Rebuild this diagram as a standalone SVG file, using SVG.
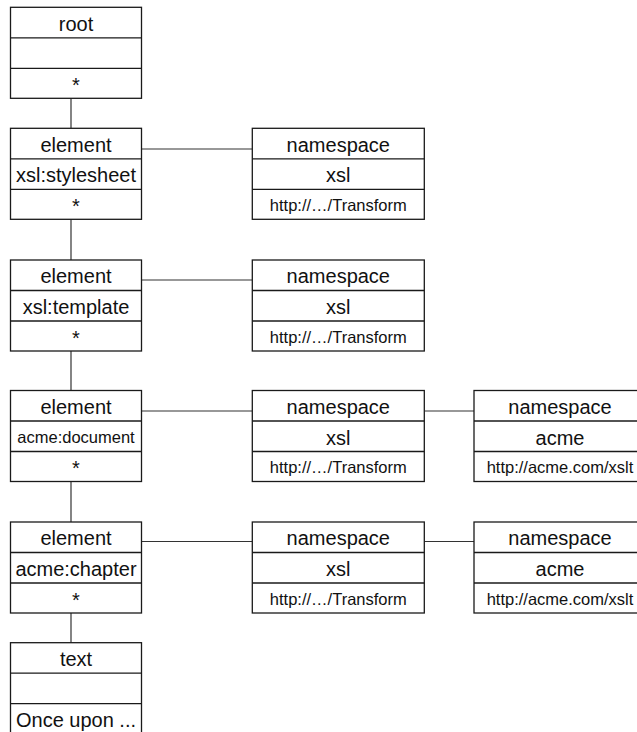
<svg xmlns="http://www.w3.org/2000/svg" width="637" height="732" viewBox="0 0 637 732">
  <style>
    .box { fill: #ffffff; stroke: #1a1a1a; stroke-width: 1.3; }
    .div { stroke: #1a1a1a; stroke-width: 1.3; }
    .edge { stroke: #333333; stroke-width: 1.2; fill: none; }
    text { font-family: "Liberation Sans", Arial, sans-serif; fill: #111111; text-anchor: middle; }
    .big { font-size: 20px; }
    .small { font-size: 16.5px; }
  </style>
  <defs>
    <!-- three-row record frame: header, name, value -->
    <g id="rec">
      <rect class="box" x="0" y="0" width="131" height="91"/>
      <line class="div" x1="0" y1="30.5" x2="131" y2="30.5"/>
      <line class="div" x1="0" y1="61" x2="131" y2="61"/>
    </g>
    <g id="nsrec">
      <rect class="box" x="0" y="0" width="172" height="91"/>
      <line class="div" x1="0" y1="30.5" x2="172" y2="30.5"/>
      <line class="div" x1="0" y1="61" x2="172" y2="61"/>
    </g>
  </defs>

  <!-- connectors -->
  <g id="connectors">
    <line class="edge" x1="71" y1="98.3" x2="71" y2="128.3"/>
    <line class="edge" x1="71" y1="219.3" x2="71" y2="260"/>
    <line class="edge" x1="71" y1="350.5" x2="71" y2="390.5"/>
    <line class="edge" x1="71" y1="481.5" x2="71" y2="522"/>
    <line class="edge" x1="71" y1="613" x2="71" y2="642.7"/>
    <line class="edge" x1="141.3" y1="149" x2="252.3" y2="149"/>
    <line class="edge" x1="141.3" y1="280" x2="252.3" y2="280"/>
    <line class="edge" x1="141.3" y1="411" x2="252.3" y2="411"/>
    <line class="edge" x1="424.3" y1="411" x2="474" y2="411"/>
    <line class="edge" x1="141.3" y1="541.5" x2="252.3" y2="541.5"/>
    <line class="edge" x1="424.3" y1="541.5" x2="474" y2="541.5"/>
  </g>

  <g id="root" transform="translate(10.5,7.3)">
    <use href="#rec"/>
    <text class="big" x="65.5" y="23.3">root</text>
    <text class="big" x="65.5" y="84.5">*</text>
  </g>

  <g id="el-stylesheet" transform="translate(10.5,128.3)">
    <use href="#rec"/>
    <text class="big" x="65.5" y="23.3">element</text>
    <text class="big" x="65.5" y="54">xsl:stylesheet</text>
    <text class="big" x="65.5" y="84.5">*</text>
  </g>

  <g id="ns-stylesheet-xsl" transform="translate(252.3,128.3)">
    <use href="#nsrec"/>
    <text class="big" x="86" y="23.3">namespace</text>
    <text class="big" x="86" y="54">xsl</text>
    <text class="small" x="86" y="82.5">http://…/Transform</text>
  </g>

  <g id="el-template" transform="translate(10.5,260)">
    <use href="#rec"/>
    <text class="big" x="65.5" y="23.3">element</text>
    <text class="big" x="65.5" y="54">xsl:template</text>
    <text class="big" x="65.5" y="84.5">*</text>
  </g>

  <g id="ns-template-xsl" transform="translate(252.3,260)">
    <use href="#nsrec"/>
    <text class="big" x="86" y="23.3">namespace</text>
    <text class="big" x="86" y="54">xsl</text>
    <text class="small" x="86" y="82.5">http://…/Transform</text>
  </g>

  <g id="el-document" transform="translate(10.5,390.5)">
    <use href="#rec"/>
    <text class="big" x="65.5" y="23.3">element</text>
    <text class="small" x="65.5" y="52">acme:document</text>
    <text class="big" x="65.5" y="84.5">*</text>
  </g>

  <g id="ns-document-xsl" transform="translate(252.3,390.5)">
    <use href="#nsrec"/>
    <text class="big" x="86" y="23.3">namespace</text>
    <text class="big" x="86" y="54">xsl</text>
    <text class="small" x="86" y="82.5">http://…/Transform</text>
  </g>

  <g id="ns-document-acme" transform="translate(474,390.5)">
    <use href="#nsrec"/>
    <text class="big" x="86" y="23.3">namespace</text>
    <text class="big" x="86" y="54">acme</text>
    <text class="small" x="86" y="82.5">http://acme.com/xslt</text>
  </g>

  <g id="el-chapter" transform="translate(10.5,522)">
    <use href="#rec"/>
    <text class="big" x="65.5" y="23.3">element</text>
    <text class="big" x="65.5" y="54">acme:chapter</text>
    <text class="big" x="65.5" y="84.5">*</text>
  </g>

  <g id="ns-chapter-xsl" transform="translate(252.3,522)">
    <use href="#nsrec"/>
    <text class="big" x="86" y="23.3">namespace</text>
    <text class="big" x="86" y="54">xsl</text>
    <text class="small" x="86" y="82.5">http://…/Transform</text>
  </g>

  <g id="ns-chapter-acme" transform="translate(474,522)">
    <use href="#nsrec"/>
    <text class="big" x="86" y="23.3">namespace</text>
    <text class="big" x="86" y="54">acme</text>
    <text class="small" x="86" y="82.5">http://acme.com/xslt</text>
  </g>

  <g id="text-node" transform="translate(10.5,642.7)">
    <use href="#rec"/>
    <text class="big" x="65.5" y="23.3">text</text>
    <text class="big" x="65.5" y="84.5">Once upon ...</text>
  </g>
</svg>
